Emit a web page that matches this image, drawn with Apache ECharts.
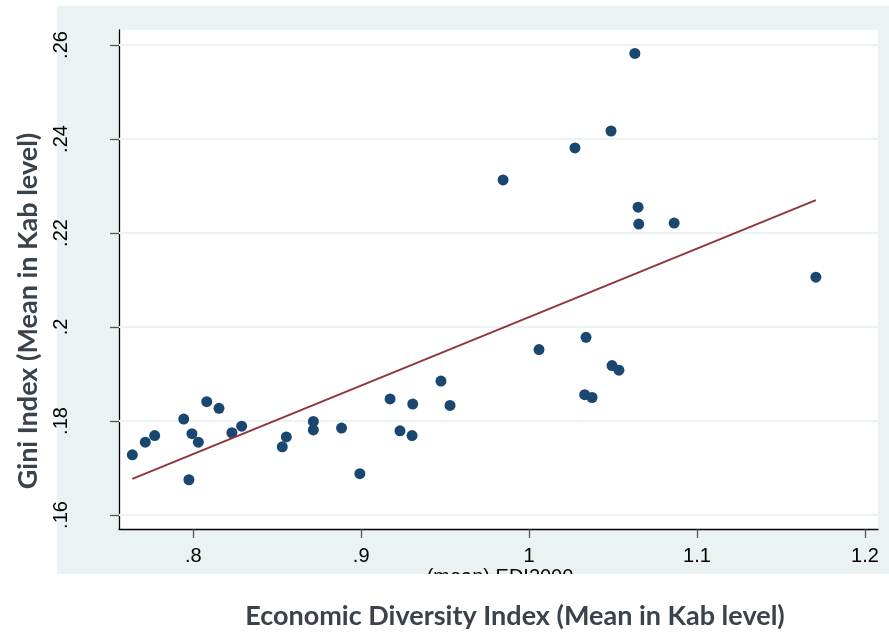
<!DOCTYPE html>
<html><head><meta charset="utf-8">
<script src="https://cdn.jsdelivr.net/npm/echarts@6/dist/echarts.min.js"></script>
<style>html,body{margin:0;padding:0;background:#fff}#c{width:889px;height:632px}</style>
</head><body><div id="c"></div>
<script>
// Economic Diversity Index (mean, Kab level)
const edi = [0.7637, 0.7714, 0.7770, 0.7943, 0.7992, 0.8030, 0.7974, 0.8080, 0.8153, 0.8230,
  0.8288, 0.8530, 0.8554, 0.8715, 0.8715, 0.8883, 0.8992, 0.9172, 0.9231, 0.9307,
  0.9303, 0.9475, 0.9529, 0.9845, 1.0059, 1.0273, 1.0331, 1.0375, 1.0339, 1.0488,
  1.0494, 1.0535, 1.0630, 1.0649, 1.0653, 1.0864, 1.1708];
// Gini index (mean, Kab level)
const gini = [0.1728, 0.1755, 0.1769, 0.1804, 0.1773, 0.1755, 0.1675, 0.1841, 0.1827, 0.1775,
  0.1789, 0.1745, 0.1766, 0.1799, 0.1781, 0.1785, 0.1688, 0.1847, 0.1779, 0.1836,
  0.1769, 0.1885, 0.1833, 0.2313, 0.1952, 0.2381, 0.1856, 0.1850, 0.1978, 0.2417,
  0.1918, 0.1908, 0.2582, 0.2255, 0.2219, 0.2221, 0.2106];
// fitted line end points
const fitEdi = [0.7637, 1.1708];
const fitGini = [0.1677, 0.2270];

const xTicks = [0.8, 0.9, 1.0, 1.1, 1.2];
const xTickLabels = ['.8', '.9', '1', '1.1', '1.2'];
const yTicks = [0.16, 0.18, 0.20, 0.22, 0.24, 0.26];
const yTickLabels = ['.16', '.18', '.2', '.22', '.24', '.26'];

const xTitle = 'Economic Diversity Index (Mean in Kab level)';
const yTitle = 'Gini Index (Mean in Kab level)';
const hiddenTitle = '(mean) EDI2000';

function lab(ticks, labels) {
  return function (v) {
    for (let i = 0; i < ticks.length; i++) if (Math.abs(ticks[i] - v) < 1e-9) return labels[i];
    return '';
  };
}

const chart = echarts.init(document.getElementById('c'), null, {renderer: 'canvas'});
const panel = '#eaf2f3';
chart.setOption({
  animation: false,
  backgroundColor: '#ffffff',
  grid: {left: 119, top: 30, right: 11, bottom: 103, show: true, backgroundColor: '#ffffff', borderWidth: 0},
  xAxis: {
    type: 'value', min: 0.75575, max: 1.2078,
    axisLine: {show: true, onZero: false, lineStyle: {color: '#000', width: 1.3}},
    axisTick: {show: true, length: 9, customValues: xTicks, lineStyle: {color: '#555', width: 1.3}},
    axisLabel: {customValues: xTicks, formatter: lab(xTicks, xTickLabels), fontFamily: 'Liberation Sans', fontSize: 20, color: '#000', margin: 17},
    splitLine: {show: false}
  },
  yAxis: {
    type: 'value', min: 0.15702, max: 0.26319,
    axisLine: {show: true, onZero: false, lineStyle: {color: '#000', width: 1.3}},
    axisTick: {show: true, length: 9, customValues: yTicks, lineStyle: {color: '#555', width: 1.3}},
    axisLabel: {customValues: yTicks, formatter: lab(yTicks, yTickLabels), rotate: 90, fontFamily: 'Liberation Sans', fontSize: 20, color: '#000', margin: 48},
    splitLine: {show: false}
  },
  graphic: [
    {type: 'rect', z: -10, silent: true, shape: {x: 57, y: 6, width: 832, height: 568}, style: {fill: panel}},
    {type: 'text', z: 50, silent: true, x: 500, y: 567, style: {text: hiddenTitle, font: '20px "Liberation Sans"', fill: '#000', align: 'center', verticalAlign: 'top'}},
    {type: 'rect', z: 60, silent: true, shape: {x: 380, y: 574, width: 260, height: 30}, style: {fill: '#ffffff'}},
    {type: 'text', z: 100, silent: true, x: 515, y: 616, style: {text: xTitle, font: 'bold 27px Lato', fill: '#3a434c', align: 'center', verticalAlign: 'middle'}},
    {type: 'text', z: 100, silent: true, x: 28, y: 311, rotation: Math.PI / 2, style: {text: yTitle, font: 'bold 27px Lato', fill: '#3a434c', align: 'center', verticalAlign: 'middle'}}
  ],
  series: [
    {
      type: 'line', data: [], z: 1, silent: true,
      markLine: {silent: true, z: 1, symbol: 'none', label: {show: false}, animation: false,
        lineStyle: {color: panel, width: 2, type: 'solid'},
        data: yTicks.map(v => ({yAxis: v}))}
    },
    {
      type: 'scatter', z: 3, symbol: 'circle', symbolSize: 11,
      itemStyle: {color: '#1a476f', opacity: 1},
      data: edi.map((x, i) => [x, gini[i]])
    },
    {
      type: 'line', z: 4, symbol: 'none', silent: true,
      lineStyle: {color: '#90353b', width: 2},
      data: fitEdi.map((x, i) => [x, fitGini[i]])
    }
  ]
});
</script></body></html>
